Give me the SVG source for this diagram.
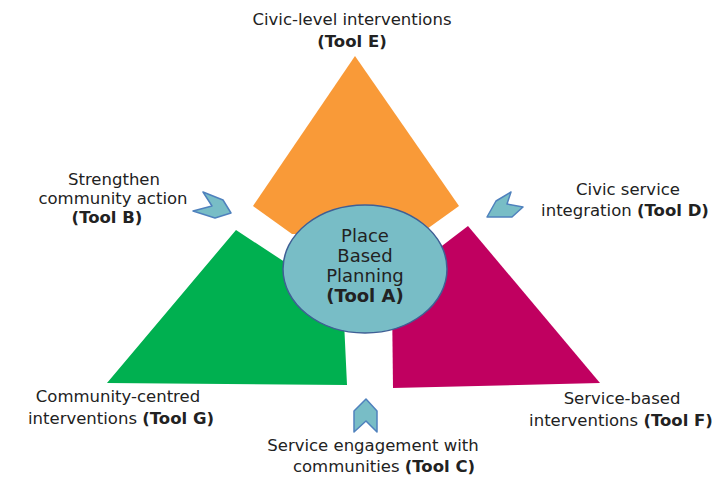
<svg xmlns="http://www.w3.org/2000/svg" width="724" height="479" viewBox="0 0 724 479">
<style>
text{font-family:"DejaVu Sans","Verdana","Liberation Sans",sans-serif;font-size:16.5px;fill:#222;text-anchor:middle}
.b{font-weight:bold}
.c{font-size:18px}
.chev{fill:#78BDC6;stroke:#4F81BD;stroke-width:1.5;stroke-linejoin:round}
</style>
<rect width="724" height="479" fill="#fff"/>
<g id="tool-e">
<polygon points="355,56 459,206 420,234 292,234 253,206" fill="#F99A38"/>
<text x="352" y="25">Civic-level interventions</text>
<text x="352" y="47" class="b">(Tool E)</text>
</g>
<g id="tool-g">
<polygon points="236,230 300,272 343,300 347,385 107,383" fill="#00B050"/>
<text x="118" y="402">Community-centred</text>
<text x="121" y="424">interventions <tspan class="b">(Tool G)</tspan></text>
</g>
<g id="tool-f">
<polygon points="468,226 600,383 393,388 392,300 430,255" fill="#C00060"/>
<text x="622" y="404">Service-based</text>
<text x="621" y="426">interventions <tspan class="b">(Tool F)</tspan></text>
</g>
<g id="tool-a">
<ellipse cx="365" cy="269" rx="82" ry="64" fill="#78BDC6" stroke="#3F5F95" stroke-width="1.5"/>
<text x="365" y="242" class="c">Place</text>
<text x="365" y="262" class="c">Based</text>
<text x="365" y="282" class="c">Planning</text>
<text x="365" y="302" class="c b">(Tool A)</text>
</g>
<g id="connectors">
<polygon class="chev" points="203,192 223,200 231,213 215,218 193,211 212,206"/>
<polygon class="chev" points="487,217 496,201 511,192 507,204 523,207 512,217"/>
<polygon class="chev" points="366,399 377,411 377,432 366,421 354,432 354,411"/>
</g>
<g id="tool-b">
<text x="114" y="185">Strengthen</text>
<text x="113" y="204">community action</text>
<text x="107" y="223" class="b">(Tool B)</text>
</g>
<g id="tool-d">
<text x="628" y="195">Civic service</text>
<text x="625" y="216">integration <tspan class="b">(Tool D)</tspan></text>
</g>
<g id="tool-c">
<text x="373" y="451">Service engagement with</text>
<text x="384" y="472">communities <tspan class="b">(Tool C)</tspan></text>
</g>
</svg>
